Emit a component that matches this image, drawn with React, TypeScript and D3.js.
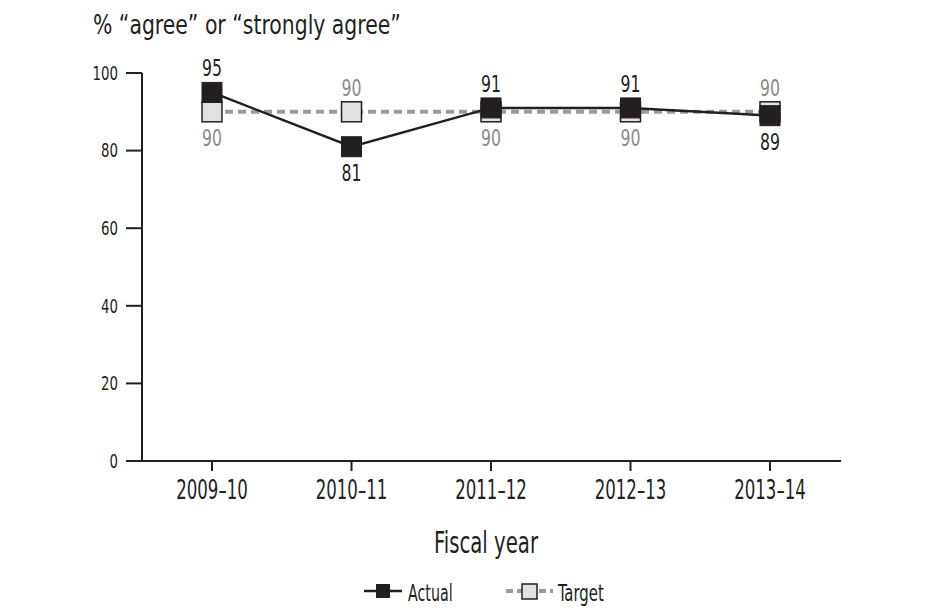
import React from "react";
import * as d3 from "d3";

const categories = ["2009–10", "2010–11", "2011–12", "2012–13", "2013–14"];
const actualValues = [95, 81, 91, 91, 89];
const targetValues = [90, 90, 90, 90, 90];
const actualLabelSide = ["above", "below", "above", "above", "below"];
const targetLabelSide = ["below", "above", "below", "below", "above"];
const yTicks = [0, 20, 40, 60, 80, 100];

const FONT = "'Liberation Sans Narrow', 'DejaVu Sans Condensed', 'Arial Narrow', sans-serif";
const BLACK = "#231f20";
const GREY_TEXT = "#8a8a8a";
const DASH = "#9a9a9a";
const TFILL = "#e1e1e1";

function T(props: {
  x: number; y: number; size: number; sx: number; anchor?: string; fill?: string; dy?: string; children: React.ReactNode;
}) {
  const { x, y, size, sx, anchor = "start", fill = BLACK, dy, children } = props;
  return (
    <text transform={`translate(${x},${y}) scale(${sx},1)`} textAnchor={anchor} fontSize={size} fill={fill} dy={dy}>
      {children}
    </text>
  );
}

export default function App() {
  const x = d3.scalePoint<string>().domain(categories).range([212, 770]);
  const y = d3.scaleLinear().domain([0, 100]).range([461, 73]);
  const sq = 20;

  const line = d3
    .line<number>()
    .x((_, i) => x(categories[i]) as number)
    .y((d) => y(d));

  const labelY = (v: number, side: string) => (side === "above" ? y(v) - 16 : y(v) + 34);

  return (
    <svg width={950} height={616} style={{ position: "absolute", left: 0, top: 0, background: "#fff" }} fontFamily={FONT}>
      {/* title */}
      <T x={93} y={34} size={27} sx={0.84}>% “agree” or “strongly agree”</T>

      {/* y axis */}
      <line x1={142} x2={142} y1={y(100)} y2={y(0)} stroke={BLACK} strokeWidth={2} />
      {yTicks.map((t) => (
        <g key={t}>
          <line x1={126} x2={142} y1={y(t)} y2={y(t)} stroke={BLACK} strokeWidth={2} />
          <T x={118} y={y(t)} dy="0.36em" anchor="end" size={19} sx={0.78}>{t}</T>
        </g>
      ))}

      {/* x axis */}
      <line x1={126} x2={841} y1={y(0)} y2={y(0)} stroke={BLACK} strokeWidth={2} />
      {categories.map((c) => (
        <g key={c}>
          <line x1={x(c)} x2={x(c)} y1={y(0)} y2={y(0) + 10} stroke={BLACK} strokeWidth={2} />
          <T x={x(c) as number} y={499} anchor="middle" size={26} sx={0.71}>{c}</T>
        </g>
      ))}
      <T x={486} y={553} anchor="middle" size={30} sx={0.73}>Fiscal year</T>

      {/* target series */}
      <path d={line(targetValues) || ""} fill="none" stroke={DASH} strokeWidth={4} strokeDasharray="8 5" />
      {targetValues.map((v, i) => (
        <rect key={"t" + i} x={(x(categories[i]) as number) - sq / 2} y={y(v) - sq / 2} width={sq} height={sq}
          fill={TFILL} stroke={BLACK} strokeWidth={1.5} />
      ))}

      {/* actual series */}
      <path d={line(actualValues) || ""} fill="none" stroke={BLACK} strokeWidth={2.5} />
      {actualValues.map((v, i) => (
        <rect key={"a" + i} x={(x(categories[i]) as number) - sq / 2} y={y(v) - sq / 2} width={sq} height={sq}
          fill={BLACK} stroke={BLACK} strokeWidth={1} />
      ))}

      {/* labels */}
      {targetValues.map((v, i) => (
        <T key={"tl" + i} x={x(categories[i]) as number} y={labelY(v, targetLabelSide[i])} anchor="middle" size={23} sx={0.76} fill={GREY_TEXT}>{v}</T>
      ))}
      {actualValues.map((v, i) => (
        <T key={"al" + i} x={x(categories[i]) as number} y={labelY(v, actualLabelSide[i])} anchor="middle" size={23} sx={0.76}>{v}</T>
      ))}

      {/* legend */}
      <line x1={364} x2={402} y1={591} y2={591} stroke={BLACK} strokeWidth={2.5} />
      <rect x={376} y={584} width={14} height={14} fill={BLACK} />
      <T x={408} y={601} size={23} sx={0.69}>Actual</T>

      <line x1={506} x2={553} y1={591} y2={591} stroke={DASH} strokeWidth={4} strokeDasharray="7 4" />
      <rect x={522} y={584} width={15} height={15} fill={TFILL} stroke={BLACK} strokeWidth={1.5} />
      <T x={558} y={601} size={23} sx={0.72}>Target</T>
    </svg>
  );
}
